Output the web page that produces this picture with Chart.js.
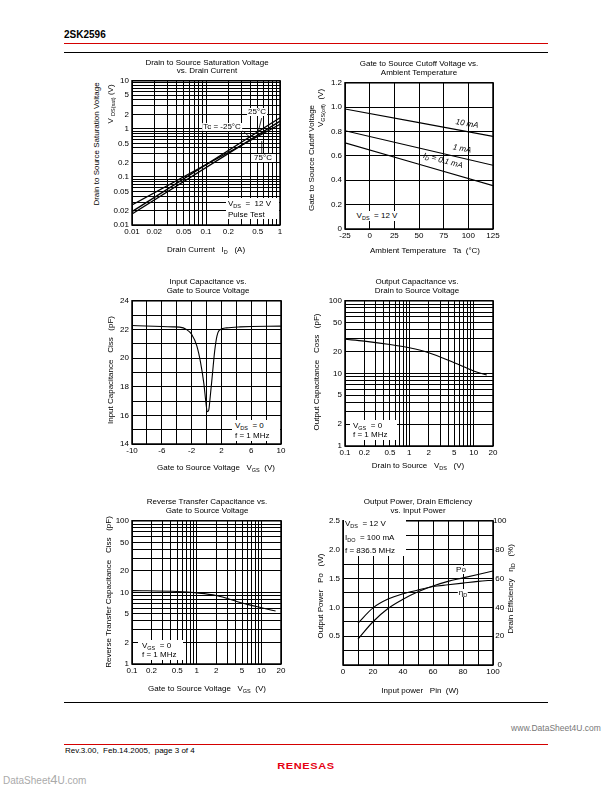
<!DOCTYPE html>
<html>
<head>
<meta charset="utf-8">
<title>2SK2596 characteristic curves</title>
<script src="https://cdn.jsdelivr.net/npm/chart.js@4.4.1/dist/chart.umd.min.js"></script>
<style>
  body { margin:0; width:612px; height:792px; position:relative; overflow:hidden; background:#fff;
         font-family:"Liberation Sans", Arial, sans-serif; color:#000; }
  canvas { position:absolute; }
  .t { position:absolute; font-size:8px; line-height:1; white-space:nowrap; z-index:2; }
  .c { transform:translate(-50%,-50%); text-align:center; }
  .l { transform:translateY(-50%); }
  .r { transform:translate(-50%,-50%) rotate(-90deg); }
  .w { background:#fff; padding:0 1px; }
  .box { position:absolute; background:#fff; z-index:1; }
  .rule { position:absolute; height:1px; }
  sub { font-size:5.5px; vertical-align:-1.5px; line-height:0; }
</style>
</head>
<body>
<div class="t l" style="left:64px;top:35px;font-size:10px;font-weight:bold">2SK2596</div>
<div class="rule" style="left:64px;top:43px;width:484px;background:#d40000"></div>
<div class="rule" style="left:64px;top:52px;width:484px;background:#000"></div>
<div class="rule" style="left:64px;top:702px;width:484px;background:#000"></div>

<!-- chart titles -->
<div class="t c" style="left:207px;top:67.5px;line-height:8.7px">Drain to Source Saturation Voltage<br>vs. Drain Current</div>
<div class="t c" style="left:419px;top:69px;line-height:8.7px">Gate to Source Cutoff Voltage vs.<br>Ambient Temperature</div>
<div class="t c" style="left:208px;top:287px;line-height:8.7px">Input Capacitance vs.<br>Gate to Source Voltage</div>
<div class="t c" style="left:417px;top:287px;line-height:8.7px">Output Capacitance vs.<br>Drain to Source Voltage</div>
<div class="t c" style="left:207px;top:507px;line-height:8.7px">Reverse Transfer Capacitance vs.<br>Gate to Source Voltage</div>
<div class="t c" style="left:418px;top:507px;line-height:8.7px">Output Power, Drain Efficiency<br>vs. Input Power</div>

<!-- axis titles -->
<div class="t c" style="left:206px;top:250px">Drain Current&nbsp;&nbsp; I<sub>D</sub>&nbsp;&nbsp; (A)</div>
<div class="t r" style="left:97px;top:144px">Drain to Source Saturation Voltage</div>
<div class="t r" style="left:111px;top:104px">V&nbsp;<sub>DS(sat)</sub>&nbsp;(V)</div>

<div class="t c" style="left:425px;top:251px">Ambient Temperature&nbsp;&nbsp; Ta&nbsp; (°C)</div>
<div class="t r" style="left:312px;top:158px">Gate to Source Cutoff Voltage</div>
<div class="t r" style="left:321px;top:108px">V<sub>GS(off)</sub>&nbsp;&nbsp;(V)</div>

<div class="t c" style="left:216px;top:468px">Gate to Source Voltage&nbsp;&nbsp; V<sub>GS</sub>&nbsp; (V)</div>
<div class="t r" style="left:111px;top:370px">Input Capacitance&nbsp;&nbsp; Ciss&nbsp;&nbsp; (pF)</div>

<div class="t c" style="left:418px;top:466px">Drain to Source&nbsp;&nbsp; V<sub>DS</sub>&nbsp;&nbsp; (V)</div>
<div class="t r" style="left:317px;top:372px">Output Capacitance&nbsp;&nbsp; Coss&nbsp;&nbsp; (pF)</div>

<div class="t c" style="left:207px;top:689px">Gate to Source Voltage&nbsp;&nbsp; V<sub>GS</sub>&nbsp; (V)</div>
<div class="t r" style="left:109px;top:592px">Reverse Transfer Capacitance&nbsp;&nbsp; Ciss&nbsp;&nbsp; (pF)</div>

<div class="t c" style="left:420px;top:691px">Input power&nbsp;&nbsp; Pin&nbsp; (W)</div>
<div class="t r" style="left:321px;top:596px">Output Power&nbsp;&nbsp; Po&nbsp;&nbsp; (W)</div>
<div class="t r" style="left:511px;top:589px">Drain Efficiency&nbsp;&nbsp; η<sub>D</sub>&nbsp;&nbsp; (%)</div>

<!-- notes inside the plots -->
<div class="t c w" style="left:257px;top:112px">25°C</div>
<div class="t c w" style="left:222px;top:127px">Tc = -25°C</div>
<div class="t c w" style="left:263px;top:158px">75°C</div>
<div class="box" style="left:226px;top:198px;width:53px;height:21px"></div>
<div class="t l" style="left:228px;top:204px">V<sub>DS</sub>&nbsp; = &nbsp;12 V</div>
<div class="t l" style="left:228px;top:214.5px">Pulse Test</div>

<div class="t c" style="left:467px;top:124px;font-style:italic;transform:translate(-50%,-50%) rotate(10deg)">10 mA</div>
<div class="t c" style="left:462px;top:149px;font-style:italic;transform:translate(-50%,-50%) rotate(11deg)">1 mA</div>
<div class="t c" style="left:443px;top:161px;font-style:italic;transform:translate(-50%,-50%) rotate(15deg)">I<sub>D</sub> = 0.1 mA</div>
<div class="t c w" style="left:377px;top:216px;padding:1px 3px">V<sub>DS</sub>&nbsp; = 12 V</div>

<div class="box" style="left:232px;top:420px;width:48px;height:21px"></div>
<div class="t l" style="left:235px;top:426px">V<sub>DS</sub>&nbsp; = 0</div>
<div class="t l" style="left:235px;top:436px">f = 1 MHz</div>

<div class="box" style="left:350px;top:420px;width:47px;height:20px"></div>
<div class="t l" style="left:353px;top:425.5px">V<sub>GS</sub>&nbsp; = 0</div>
<div class="t l" style="left:353px;top:434.5px">f = 1 MHz</div>

<div class="box" style="left:138px;top:640px;width:45px;height:20px"></div>
<div class="t l" style="left:142px;top:645.5px">V<sub>GS</sub>&nbsp; = 0</div>
<div class="t l" style="left:142px;top:654.5px">f = 1 MHz</div>

<div class="box" style="left:344px;top:520px;width:62px;height:36px"></div>
<div class="t l" style="left:345px;top:524px">V<sub>DS</sub>&nbsp; = 12 V</div>
<div class="t l" style="left:345px;top:537.5px">I<sub>DO</sub>&nbsp; = 100 mA</div>
<div class="t l" style="left:345px;top:551px">f = 836.5 MHz</div>
<div class="t c w" style="left:461px;top:570px">Po</div>
<div class="t c w" style="left:463px;top:593px">η<sub>D</sub></div>

<!-- footer -->
<div class="t c" style="left:556px;top:728px;font-size:8.5px;color:#777">www.DataSheet4U.com</div>
<div class="rule" style="left:64px;top:744px;width:484px;background:#d40000"></div>
<div class="t l" style="left:65px;top:751px">Rev.3.00,&nbsp; Feb.14.2005,&nbsp; page 3 of 4</div>
<div class="t c" style="left:306px;top:766px;font-size:11px;font-weight:bold;color:#e60012;letter-spacing:0.6px;transform:translate(-50%,-50%) scaleY(0.8)">RENESAS</div>
<div class="t l" style="left:3px;top:779px;font-size:10px;color:#aaa">DataSheet<span style="font-size:13px">4</span>U.com</div>

<script>
const F = 'Liberation Sans';

// Drain to source saturation voltage vs drain current (straight lines, log-log)
const satCurrent = [0.01, 1];
const satTcM25 = [0.017, 1.45];
const satTc25 = [0.019, 1.7];
const satTc75 = [0.026, 1.25];
const satXLabels = ['0.01', '0.02', '0.05', '0.1', '0.2', '0.5', '1'];
const satYLabels = ['0.01', '0.02', '0.05', '0.1', '0.2', '0.5', '1', '2', '5', '10'];

// Gate to source cutoff voltage vs ambient temperature
const offTemp = [-25, 50, 125];
const off10mA = [0.985, 0.873, 0.76];
const off1mA = [0.806, 0.665, 0.523];
const off01mA = [0.707, 0.532, 0.356];
const offXTicks = [-25, 0, 25, 50, 75, 100, 125];
const offXLabels = ['-25', '0', '25', '50', '75', '100', '125'];
const offYTicks = [0, 0.2, 0.4, 0.6, 0.8, 1.0, 1.2];
const offYLabels = ['0', '0.2', '0.4', '0.6', '0.8', '1.0', '1.2'];

// Input capacitance vs gate to source voltage
const cissVgs = [-10, -4.5, -3.6, -2.7, -2, -1.3, -0.8, -0.35, -0.07, 0.1, 0.3, 0.5, 0.8, 1.1, 1.4, 1.7, 2.7, 4.5, 10];
const ciss = [22.28, 22.18, 22.16, 22.0, 21.66, 20.85, 19.7, 18.2, 16.85, 16.25, 16.37, 17.3, 18.9, 20.5, 21.54, 21.93, 22.11, 22.18, 22.23];
const cissXTicks = [-10, -8, -6, -4, -2, 0, 2, 4, 6, 8, 10];
const cissXLabels = ['-10', '-6', '-2', '2', '6', '10'];
const cissYTicks = [14, 15, 16, 17, 18, 19, 20, 21, 22, 23, 24];
const cissYLabels = ['14', '16', '18', '20', '22', '24'];

// Output capacitance vs drain to source voltage
const cossVds = [0.1, 0.2, 0.5, 1, 2, 5, 10, 16];
const coss = [29.5, 27.8, 25, 22.5, 19.3, 14, 10.8, 9.5];

// Reverse transfer capacitance vs gate to source voltage
const crssVgs = [0.1, 0.5, 1, 2, 5, 10, 16.5];
const crss = [10.6, 10.3, 9.85, 9.05, 7.1, 6.1, 5.5];

const capXLabels = ['0.1', '0.2', '0.5', '1', '2', '5', '10', '20'];
const capYLabels = ['1', '2', '5', '10', '20', '50', '100'];

// Output power and drain efficiency vs input power
const pinW = [10, 20, 30, 40, 50, 60, 70, 80, 90, 100];
const outPower = [0.45, 0.75, 0.98, 1.14, 1.27, 1.37, 1.45, 1.51, 1.57, 1.63];
const drainEff = [29, 39.6, 45.7, 49.4, 52, 54.4, 55.6, 56.8, 58, 58.8];
const pinTicks = [0, 10, 20, 30, 40, 50, 60, 70, 80, 90, 100];
const pinLabels = ['0', '20', '40', '60', '80', '100'];
const poTicks = [0, 0.25, 0.5, 0.75, 1.0, 1.25, 1.5, 1.75, 2.0, 2.25, 2.5];
const poLabels = ['0.5', '1.0', '1.5', '2.0', '2.5'];
const effTicks = [0, 20, 40, 60, 80, 100];
const effLabels = ['0', '20', '40', '60', '80', '100'];

function logGrid(lo, hi) {
  const out = [];
  for (let e = Math.floor(Math.log10(lo)); e <= Math.ceil(Math.log10(hi)); e++)
    for (let m = 1; m <= 9; m++) {
      const v = +(m * Math.pow(10, e)).toPrecision(6);
      if (v >= lo * 0.999 && v <= hi * 1.001) out.push(v);
    }
  return out;
}

function pts(xs, ys) { return xs.map((x, i) => ({x: x, y: ys[i]})); }

function axis(type, pos, min, max, grid, labels, size, showGrid) {
  return {
    type: type, position: pos, min: min, max: max,
    afterBuildTicks: s => { s.ticks = grid.map(v => ({value: v})); },
    afterFit: s => { if (pos === 'bottom') s.height = size; else s.width = size; },
    grid: {display: showGrid !== false, color: '#000', lineWidth: 1, drawTicks: false},
    border: {display: false},
    ticks: {
      autoSkip: false, maxRotation: 0, minRotation: 0,
      padding: pos === 'bottom' ? 2 : (pos === 'right' ? 0 : 3),
      crossAlign: pos === 'right' ? 'center' : 'near',
      color: '#000', font: {family: F, size: 8},
      callback: v => {
        const l = labels.find(s => Math.abs(parseFloat(s) - v) < 1e-9 + Math.abs(v) * 1e-6);
        return l === undefined ? '' : l;
      }
    }
  };
}

function framePlugin(leaders) {
  return {
    id: 'frame',
    afterDatasetsDraw(chart) {
      const {ctx, chartArea: a} = chart;
      ctx.save();
      ctx.strokeStyle = '#000';
      ctx.lineWidth = 1.5;
      ctx.strokeRect(a.left, a.top, a.right - a.left, a.bottom - a.top);
      ctx.lineWidth = 0.8;
      (leaders || []).forEach(l => {
        ctx.beginPath();
        ctx.moveTo(chart.scales.x.getPixelForValue(l[0]), chart.scales.y.getPixelForValue(l[1]));
        ctx.lineTo(chart.scales.x.getPixelForValue(l[2]), chart.scales.y.getPixelForValue(l[3]));
        ctx.stroke();
      });
      ctx.restore();
    }
  };
}

// area = [left, top, right, bottom] of the plot frame on the page
function plot(area, scales, datasets, rightW, leaders) {
  const yW = 30, xH = 14, padT = 6, padR = rightW ? 3 : 20;
  const w = yW + (area[2] - area[0]) + (rightW || 0) + padR;
  const h = padT + (area[3] - area[1]) + xH;
  const cv = document.createElement('canvas');
  cv.width = w; cv.height = h;
  Object.assign(cv.style, {left: (area[0] - yW) + 'px', top: (area[1] - padT) + 'px', width: w + 'px', height: h + 'px'});
  document.body.appendChild(cv);
  return new Chart(cv, {
    type: 'line',
    data: {datasets: datasets},
    options: {
      responsive: false, animation: false, devicePixelRatio: 1,
      layout: {padding: {top: padT, right: padR, left: 0, bottom: 0}},
      scales: scales,
      elements: {point: {radius: 0}, line: {borderColor: '#000', borderWidth: 1.3}},
      plugins: {legend: {display: false}, tooltip: {enabled: false}}
    },
    plugins: [framePlugin(leaders)]
  });
}

plot([132, 79, 280, 225], {
  x: axis('logarithmic', 'bottom', 0.01, 1, logGrid(0.01, 1), satXLabels, 14),
  y: axis('logarithmic', 'left', 0.01, 10, logGrid(0.01, 10), satYLabels, 30)
}, [
  {data: pts(satCurrent, satTcM25)},
  {data: pts(satCurrent, satTc25)},
  {data: pts(satCurrent, satTc75)}
], 0, [[0.566, 1.68, 0.5, 0.8], [0.313, 0.91, 0.415, 0.62], [0.566, 0.31, 0.566, 0.56]]);

plot([345, 81, 493, 229], {
  x: axis('linear', 'bottom', -25, 125, offXTicks, offXLabels, 14),
  y: axis('linear', 'left', 0, 1.2, offYTicks, offYLabels, 30)
}, [
  {data: pts(offTemp, off10mA), borderWidth: 1.1},
  {data: pts(offTemp, off1mA), borderWidth: 1.1},
  {data: pts(offTemp, off01mA), borderWidth: 1.1}
]);

plot([132, 299, 281, 444], {
  x: axis('linear', 'bottom', -10, 10, cissXTicks, cissXLabels, 14),
  y: axis('linear', 'left', 14, 24, cissYTicks, cissYLabels, 30)
}, [
  {data: pts(cissVgs, ciss), cubicInterpolationMode: 'monotone', borderWidth: 1.1}
]);

plot([345, 299, 493, 446], {
  x: axis('logarithmic', 'bottom', 0.1, 20, logGrid(0.1, 20), capXLabels, 14),
  y: axis('logarithmic', 'left', 1, 100, logGrid(1, 100), capYLabels, 30)
}, [
  {data: pts(cossVds, coss), cubicInterpolationMode: 'monotone', borderWidth: 1.1}
]);

plot([132, 519, 281, 664], {
  x: axis('logarithmic', 'bottom', 0.1, 20, logGrid(0.1, 20), capXLabels, 14),
  y: axis('logarithmic', 'left', 1, 100, logGrid(1, 100), capYLabels, 30)
}, [
  {data: pts(crssVgs, crss), cubicInterpolationMode: 'monotone', borderWidth: 1.1}
]);

plot([343, 519, 493, 665], {
  x: axis('linear', 'bottom', 0, 100, pinTicks, pinLabels, 14),
  y: axis('linear', 'left', 0, 2.5, poTicks, poLabels, 30),
  y2: axis('linear', 'right', 0, 100, effTicks, effLabels, 14, false)
}, [
  {data: pts(pinW, outPower), yAxisID: 'y', cubicInterpolationMode: 'monotone', borderWidth: 1.1},
  {data: pts(pinW, drainEff), yAxisID: 'y2', cubicInterpolationMode: 'monotone', borderWidth: 1.1}
], 14);
</script>
</body>
</html>
